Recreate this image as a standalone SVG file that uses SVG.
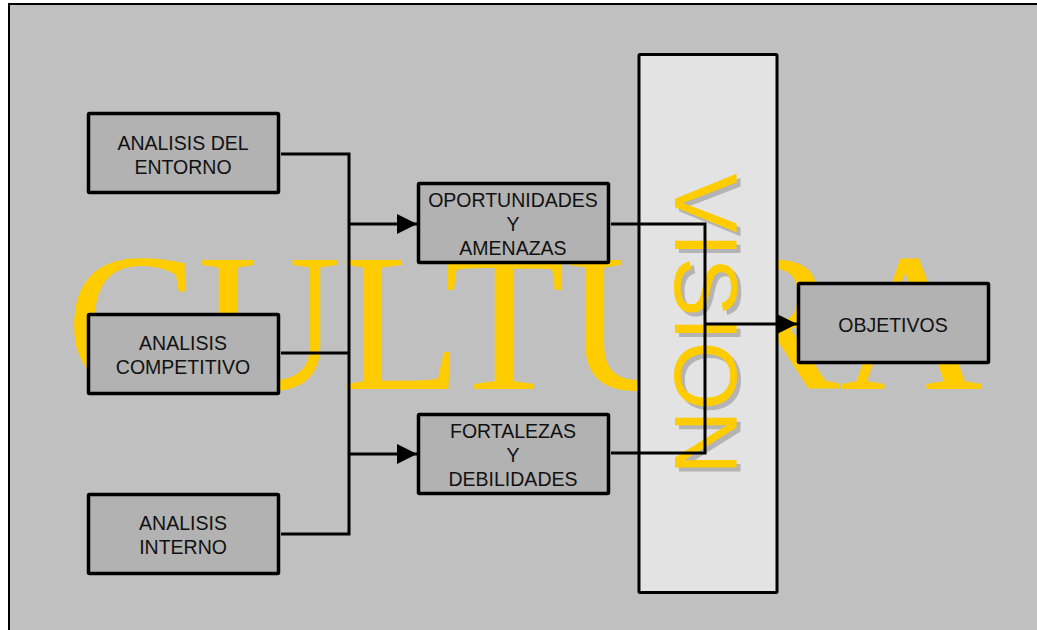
<svg xmlns="http://www.w3.org/2000/svg" width="1037" height="630" viewBox="0 0 1037 630">
  <defs>
    <style>
      .box { fill: #B2B2B2; stroke: #000; stroke-width: 3.5; }
      .lbl { font-family: "Liberation Sans", Arial, sans-serif; font-size: 19.5px; fill: #111; text-anchor: middle; }
      .wire { fill: none; stroke: #000; stroke-width: 3; }
      .vis { font-family: "Liberation Sans", Arial, sans-serif; font-size: 89px; text-anchor: middle; }
    </style>
    <marker id="arr" viewBox="0 0 20 20" refX="20" refY="10" markerWidth="20" markerHeight="20" markerUnits="userSpaceOnUse" orient="auto">
      <path d="M0,0 L20,10 L0,20 Z" fill="#000"/>
    </marker>
  </defs>

  <rect x="0" y="0" width="1037" height="630" fill="#FFFFFF"/>
  <rect id="frame" x="9" y="4" width="1040" height="640" fill="#C0C0C0" stroke="#000" stroke-width="2"/>

  <text id="cultura" x="66" y="389" font-family="'Liberation Serif', 'Times New Roman', serif" font-size="198" fill="#FFCC00">CULTURA</text>

  <g id="vision">
    <rect x="639" y="54.5" width="138" height="538" rx="1" fill="#E3E3E3" stroke="#000" stroke-width="3"/>
    <text class="vis" transform="translate(679,328) rotate(90)" fill="#B4B4B4">VISION</text>
    <text class="vis" transform="translate(675,324) rotate(90)" fill="#FFCC00">VISION</text>
  </g>

  <g id="analisis-entorno">
    <rect class="box" x="88.5" y="113.5" width="190" height="79" rx="1"/>
    <text class="lbl" x="183" y="150">ANALISIS DEL</text>
    <text class="lbl" x="183" y="174">ENTORNO</text>
  </g>
  <g id="analisis-competitivo">
    <rect class="box" x="88.5" y="314.5" width="190" height="79" rx="1"/>
    <text class="lbl" x="183" y="350">ANALISIS</text>
    <text class="lbl" x="183" y="374">COMPETITIVO</text>
  </g>
  <g id="analisis-interno">
    <rect class="box" x="88.5" y="494.5" width="190" height="79" rx="1"/>
    <text class="lbl" x="183" y="530">ANALISIS</text>
    <text class="lbl" x="183" y="554">INTERNO</text>
  </g>
  <g id="oportunidades">
    <rect class="box" x="418.5" y="183.5" width="190" height="79" rx="1"/>
    <text class="lbl" x="513" y="207">OPORTUNIDADES</text>
    <text class="lbl" x="513" y="231">Y</text>
    <text class="lbl" x="513" y="255">AMENAZAS</text>
  </g>
  <g id="fortalezas">
    <rect class="box" x="418.5" y="414.5" width="190" height="79" rx="1"/>
    <text class="lbl" x="513" y="438">FORTALEZAS</text>
    <text class="lbl" x="513" y="462">Y</text>
    <text class="lbl" x="513" y="486">DEBILIDADES</text>
  </g>
  <g id="objetivos">
    <rect class="box" x="798.5" y="283.5" width="190" height="79" rx="1"/>
    <text class="lbl" x="893" y="332">OBJETIVOS</text>
  </g>

  <g id="connectors">
    <path class="wire" d="M281,154 H349 V534 H281"/>
    <path class="wire" d="M281,353 H349"/>
    <path class="wire" d="M349,224 H417" marker-end="url(#arr)"/>
    <path class="wire" d="M349,454 H417" marker-end="url(#arr)"/>
    <path class="wire" d="M611,224 H705 V453 H611"/>
    <path class="wire" d="M705,324 H797" marker-end="url(#arr)"/>
  </g>
</svg>
